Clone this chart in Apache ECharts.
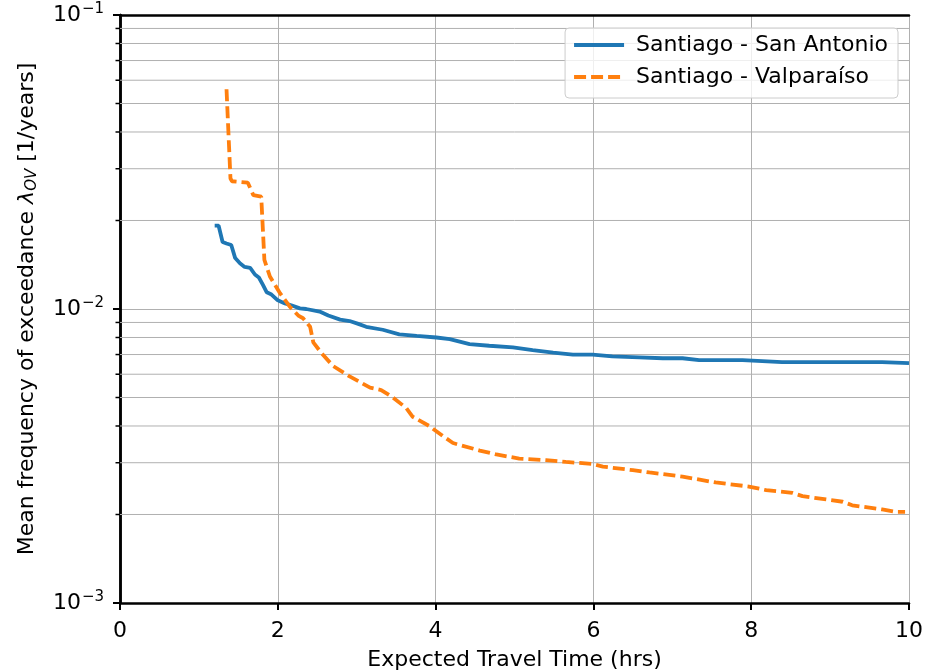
<!DOCTYPE html>
<html>
<head>
<meta charset="utf-8">
<script src="https://cdn.jsdelivr.net/npm/echarts@6/dist/echarts.min.js"></script>
<style>html,body{margin:0;padding:0;background:#fff}#c{width:932px;height:670px}</style>
</head>
<body>
<div id="c"></div>
<script>
// ---- data ----
const seriesNames = ['Santiago - San Antonio', 'Santiago - Valparaíso'];
const sanAntonioX = [1.20,1.25,1.30,1.35,1.41,1.46,1.52,1.58,1.65,1.71,1.76,1.81,1.86,1.92,2.00,2.09,2.17,2.28,2.36,2.53,2.64,2.79,2.91,3.02,3.12,3.33,3.54,3.76,4.01,4.18,4.43,4.68,4.98,5.23,5.49,5.74,5.99,6.24,6.58,6.88,7.13,7.34,7.89,8.39,9.03,9.66,10.0];
const sanAntonioY = [0.0192,0.0192,0.0169,0.0167,0.0165,0.0149,0.0143,0.0139,0.0138,0.0131,0.0128,0.0121,0.0114,0.0112,0.0107,0.01045,0.0103,0.01005,0.0100,0.0098,0.0095,0.0092,0.0091,0.0089,0.0087,0.0085,0.0082,0.0081,0.0080,0.0079,0.0076,0.0075,0.0074,0.00725,0.0071,0.0070,0.0070,0.0069,0.00685,0.0068,0.0068,0.0067,0.0067,0.0066,0.0066,0.0066,0.00655];
const valparaisoX = [1.35,1.40,1.42,1.62,1.69,1.79,1.83,1.90,2.03,2.15,2.26,2.32,2.41,2.45,2.55,2.70,2.91,3.17,3.31,3.46,3.63,3.71,3.92,4.09,4.22,4.56,4.77,5.06,5.40,5.65,5.99,6.12,6.50,6.71,7.13,7.55,7.97,8.19,8.52,8.65,9.16,9.28,9.66,9.83,9.95];
const valparaisoY = [0.0559,0.0278,0.0272,0.0269,0.0244,0.0241,0.0147,0.0129,0.0113,0.0102,0.0095,0.0093,0.0087,0.0077,0.0071,0.0064,0.0059,0.0054,0.0053,0.0050,0.0046,0.0043,0.0040,0.0037,0.0035,0.0033,0.0032,0.0031,0.00306,0.00302,0.00297,0.00291,0.00283,0.00278,0.00269,0.00257,0.00249,0.00242,0.00237,0.00231,0.00221,0.00215,0.00208,0.00204,0.00204];
const xTicks = [0, 2, 4, 6, 8, 10];
const yMajor = [0.001, 0.01, 0.1];
const yMinor = [0.002,0.003,0.004,0.005,0.006,0.007,0.008,0.009,0.02,0.03,0.04,0.05,0.06,0.07,0.08,0.09];

const zip = (xs, ys) => xs.map((x, i) => [x, ys[i]]);
const FONT = 'DejaVu Sans';
const LW = 3.8;
const frameLine = { show: true, lineStyle: { color: '#000', width: 2.5 } };
const chart = echarts.init(document.getElementById('c'));
chart.setOption({
  animation: false,
  textStyle: { fontFamily: FONT },
  grid: { left: 120, right: 23, top: 15, bottom: 67, containLabel: false, outerBoundsMode: 'none' },
  legend: {
    orient: 'vertical', right: 34, top: 28,
    itemWidth: 50, itemHeight: 22, itemGap: 10,
    padding: [6, 10, 10, 9],
    borderColor: '#cccccc', borderWidth: 1, borderRadius: 4,
    backgroundColor: 'rgba(255,255,255,0.8)',
    textStyle: { fontFamily: FONT, fontSize: 22, color: '#000', padding: [0, 0, 0, 7] },
    data: [
      { name: seriesNames[0], icon: 'path://M0,0h50v3.8h-50z', itemStyle: { color: '#1f77b4' } },
      { name: seriesNames[1], icon: 'path://M0,0h12v3.8h-12zM17,0h12v3.8h-12zM34,0h12v3.8h-12zM50,0v3.8z', itemStyle: { color: '#ff7f0e' } }
    ]
  },
  xAxis: [{
    type: 'value', min: xTicks[0], max: xTicks[xTicks.length - 1], interval: 2,
    name: 'Expected Travel Time (hrs)', nameLocation: 'middle', nameGap: 46,
    nameTextStyle: { fontFamily: FONT, fontSize: 22, color: '#000' },
    axisLine: frameLine,
    axisTick: { show: true, length: 7, inside: false, lineStyle: { color: '#000', width: 2 } },
    axisLabel: { fontFamily: FONT, fontSize: 22, color: '#000', margin: 17 },
    splitLine: { show: true, lineStyle: { color: '#b0b0b0', width: 1 } }
  }, {
    type: 'value', position: 'top', min: xTicks[0], max: xTicks[xTicks.length - 1], interval: 2,
    axisLine: frameLine, axisTick: { show: false }, axisLabel: { show: false }, splitLine: { show: false }
  }],
  yAxis: [{
    type: 'log', logBase: 10, min: yMajor[0], max: yMajor[yMajor.length - 1],
    name: 'Mean frequency of exceedance {l|λ}{sub|OV} [1/years]', nameLocation: 'middle', nameGap: 80,
    nameTextStyle: {
      fontFamily: FONT, fontSize: 22, color: '#000',
      rich: {
        l: { fontFamily: FONT, fontSize: 22, fontStyle: 'italic', color: '#000' },
        sub: { fontFamily: FONT, fontSize: 15, fontStyle: 'italic', color: '#000', padding: [10, 0, 0, 0] }
      }
    },
    axisLine: frameLine,
    axisTick: { show: true, length: 7, lineStyle: { color: '#000', width: 2 } },
    axisLabel: {
      fontFamily: FONT, color: '#000', margin: 16,
      formatter: v => '{b|10}{s|−' + Math.round(-Math.log10(v)) + '}',
      rich: {
        b: { fontFamily: FONT, fontSize: 22, color: '#000' },
        s: { fontFamily: FONT, fontSize: 15, color: '#000', padding: [0, 0, 12, 1] }
      }
    },
    splitLine: { show: true, lineStyle: { color: '#b0b0b0', width: 1 } }
  }, {
    type: 'log', logBase: 10, position: 'right', min: yMajor[0], max: yMajor[yMajor.length - 1],
    axisLine: frameLine, axisTick: { show: false }, axisLabel: { show: false }, splitLine: { show: false }
  }],
  series: [
    {
      name: seriesNames[0], type: 'line', data: zip(sanAntonioX, sanAntonioY),
      symbol: 'none', color: '#1f77b4', lineStyle: { color: '#1f77b4', width: LW }, z: 5
    },
    {
      name: seriesNames[1], type: 'line', data: zip(valparaisoX, valparaisoY),
      symbol: 'none', color: '#ff7f0e', lineStyle: { color: '#ff7f0e', width: LW, type: [12, 5] }, z: 6
    },
    {
      type: 'custom', silent: true, z: 1, clip: false,
      data: yMinor.map(v => [0, v]),
      renderItem: (params, api) => {
        const v = api.value(1);
        const p0 = api.coord([xTicks[0], v]);
        const p1 = api.coord([xTicks[xTicks.length - 1], v]);
        return {
          type: 'group', children: [
            { type: 'line', shape: { x1: p0[0], y1: p0[1], x2: p1[0], y2: p1[1] }, style: { stroke: '#b0b0b0', lineWidth: 1 } },
            { type: 'line', shape: { x1: p0[0] - 4.5, y1: p0[1], x2: p0[0], y2: p0[1] }, style: { stroke: '#000', lineWidth: 1.5 } }
          ]
        };
      }
    }
  ]
});
</script>
</body>
</html>
